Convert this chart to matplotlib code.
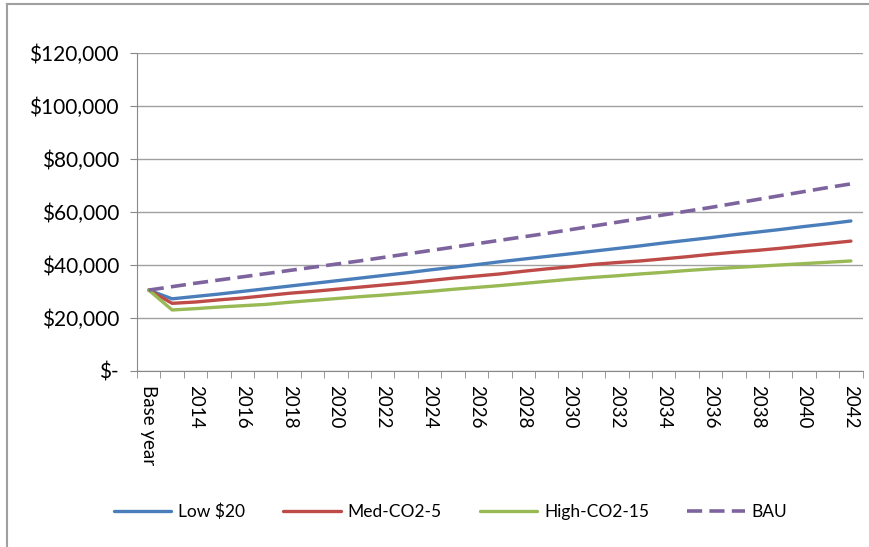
import matplotlib.pyplot as plt
from matplotlib.ticker import FuncFormatter, FixedLocator
from matplotlib.lines import Line2D

years = ['Base year'] + [str(y) for y in range(2013, 2043)]

low_20 = [30500, 27200, 28100, 29000, 30000, 31000, 32000, 33000, 34000, 35000,
          36000, 37000, 38100, 39100, 40100, 41200, 42200, 43200, 44200, 45200,
          46200, 47200, 48300, 49300, 50300, 51400, 52400, 53400, 54500, 55500, 56600]
med_co2_5 = [30500, 25500, 26000, 26800, 27500, 28400, 29300, 30000, 30800, 31600,
             32400, 33200, 34100, 35000, 35800, 36600, 37600, 38500, 39300, 40200,
             40900, 41500, 42300, 43100, 44000, 44800, 45500, 46300, 47200, 48100, 49000]
high_co2_15 = [30500, 23000, 23500, 24100, 24600, 25100, 25900, 26600, 27300, 28000,
               28600, 29300, 30000, 30800, 31500, 32200, 33000, 33800, 34600, 35300,
               35900, 36600, 37200, 37900, 38500, 39000, 39500, 40000, 40500, 41000, 41500]
bau = [30500, 31800, 33100, 34300, 35500, 36700, 37900, 39100, 40300, 41500,
       42800, 44100, 45400, 46700, 48000, 49300, 50600, 51900, 53300, 54700,
       56100, 57500, 58900, 60300, 61700, 63200, 64700, 66200, 67700, 69200, 70600]

plt.rcParams['font.family'] = ['Lato', 'DejaVu Sans']

fig = plt.figure(figsize=(8.7, 5.47), dpi=100)
ax = fig.add_axes([0.1575, 0.322, 0.834, 0.581])

x = list(range(len(years)))
ax.plot(x, low_20, color='#4A7EBB', lw=2.4, label='Low $20', solid_capstyle='round')
ax.plot(x, med_co2_5, color='#BE4B48', lw=2.4, label='Med-CO2-5', solid_capstyle='round')
ax.plot(x, high_co2_15, color='#98B954', lw=2.4, label='High-CO2-15', solid_capstyle='round')
ax.plot(x, bau, color='#7E649E', lw=2.6, ls=(0, (4.2, 2.0)), label='BAU')

ax.set_xlim(-0.5, len(years) - 0.5)
ax.set_ylim(0, 120000)
ax.set_yticks(range(0, 120001, 20000))
ax.yaxis.set_major_formatter(FuncFormatter(lambda v, p: '$-' if v == 0 else f'${v:,.0f}'))
ax.grid(axis='y', color='#A0A0A0', lw=1)
ax.set_axisbelow(True)

# category labels on every other year, tick marks between categories
ax.set_xticks(x[::2])
ax.set_xticklabels(years[::2], rotation=-90, fontsize=13.5)
ax.xaxis.set_minor_locator(FixedLocator([i - 0.5 for i in range(len(years) + 1)]))
ax.tick_params(axis='x', which='major', length=0, pad=10)
ax.tick_params(axis='x', which='minor', length=5, color='#888888')
ax.tick_params(axis='y', length=5, color='#888888', labelsize=15, pad=8)

for side in ['top', 'right']:
    ax.spines[side].set_visible(False)
for side in ['left', 'bottom']:
    ax.spines[side].set_color('#888888')

fig.legend(loc='lower center', ncol=4, bbox_to_anchor=(0.518, 0.02), frameon=False,
           fontsize=12.5, handlelength=3.3, handletextpad=0.4, columnspacing=2.2)

# chart area border
fig.add_artist(Line2D([0.008, 0.008], [0.0, 0.993], color='#A0A0A0', lw=1.5,
                      transform=fig.transFigure))
fig.add_artist(Line2D([0.008, 1.0], [0.993, 0.993], color='#A0A0A0', lw=1.5,
                      transform=fig.transFigure))

fig.savefig('out.png', dpi=100)
